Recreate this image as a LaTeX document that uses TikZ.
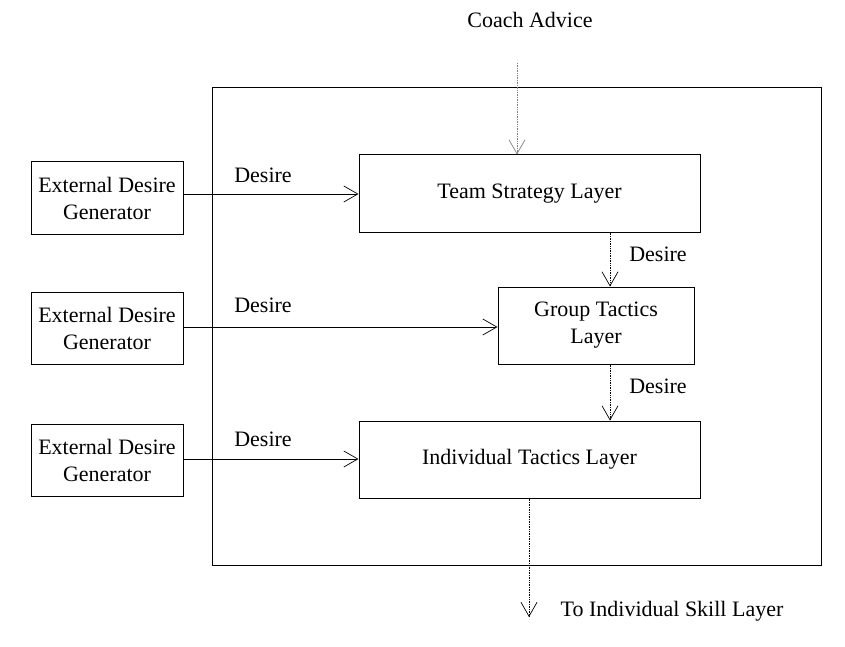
\documentclass[tikz,border=0pt]{standalone}
\usepackage{fontspec}
\setmainfont{Liberation Serif}
\usetikzlibrary{arrows.meta}
\begin{document}
\begin{tikzpicture}[x=1pt,y=-1pt,
  box/.style={draw,line width=1pt,align=center,font=\fontsize{22}{27}\selectfont},
  lbl/.style={font=\fontsize{22}{27}\selectfont},
  sol/.style={->,>={Straight Barb[length=14pt,width=16pt]},line width=0.7pt},
  dot/.style={->,>={Straight Barb[length=14pt,width=16pt]},line width=0.7pt,densely dotted},
  inner sep=0pt]
\useasboundingbox (0,0) rectangle (845,647);
\draw[line width=1pt] (212,88) rectangle (821,565);
\node[box,minimum width=341,minimum height=77] (team) at (529.5,193.5) {Team Strategy Layer};
\node[box,minimum width=196,minimum height=77] (group) at (596,325.5) {Group Tactics\\Layer};
\node[box,minimum width=341,minimum height=77] (ind) at (529.5,459.5) {Individual Tactics Layer};
\node[box,minimum width=152,minimum height=72] (e1) at (107,198) {External Desire\\Generator};
\node[box,minimum width=152,minimum height=72] (e2) at (107,328) {External Desire\\Generator};
\node[box,minimum width=152,minimum height=72] (e3) at (107,460.5) {External Desire\\Generator};
\node[lbl] (coach) at (530,20) {Coach Advice};
\node[lbl] (skill) at (672,611) {To Individual Skill Layer};
\coordinate (sk) at (529,617);
\draw[dot,gray] (517,63) -- (team.north -| 517,0);
\draw[sol] (e1.east |- 0,194) -- (team.west |- 0,194);
\node[lbl] (d1) at (263,175) {Desire};
\draw[sol] (e2.east |- 0,327) -- (group.west |- 0,327);
\node[lbl] (d2) at (263,305) {Desire};
\draw[sol] (e3.east |- 0,459) -- (ind.west |- 0,459);
\node[lbl] (d3) at (263,439) {Desire};
\draw[dot] (team.south -| 610,0) -- (group.north -| 610,0);
\node[lbl] (d4) at (658,254) {Desire};
\draw[dot] (group.south -| 610,0) -- (ind.north -| 610,0);
\node[lbl] (d5) at (658,386) {Desire};
\draw[dot] (ind.south -| sk) -- (sk);
\end{tikzpicture}
\end{document}
